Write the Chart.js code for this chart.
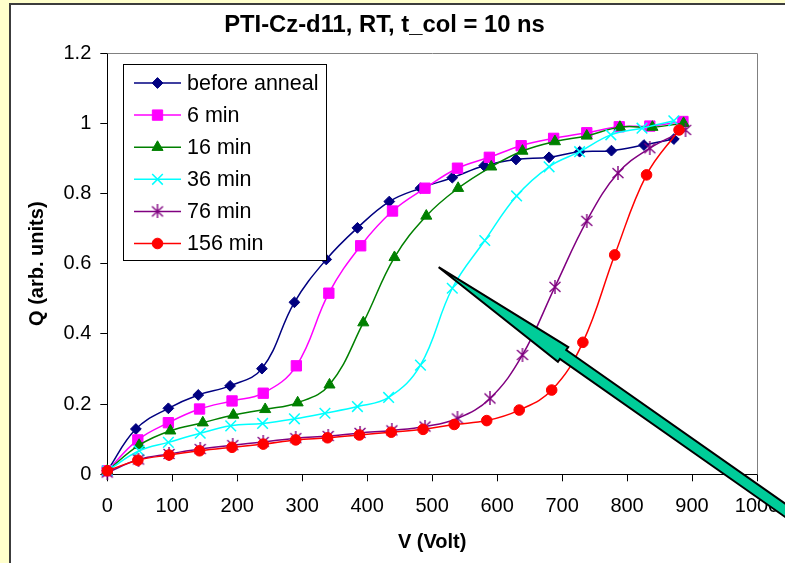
<!DOCTYPE html>
<html>
<head>
<meta charset="utf-8">
<title>PTI-Cz-d11, RT, t_col = 10 ns</title>
<script src="https://cdn.jsdelivr.net/npm/chart.js@4/dist/chart.umd.min.js"></script>
<style>
  html, body { margin: 0; padding: 0; background: #FFFFCC; overflow: hidden; }
  #panel { position: absolute; left: 9px; top: 3px; width: 820px; height: 620px;
           border: 2px solid #3c3c3c; background: #ffffff; }
  #wrap { position: absolute; left: 0; top: 0; width: 785px; height: 563px; }
  canvas { display: block; }
</style>
</head>
<body>
<div id="panel"></div>
<div id="wrap"><canvas id="chart" width="785" height="563"></canvas></div>
<script>
// Collection charge Q versus applied voltage V after successive anneal times.
const seriesLabels = ['before anneal', '6 min', '16 min', '36 min', '76 min', '156 min'];

const vBefore = [0, 44, 94, 140, 189, 238, 288, 337, 385, 434, 482, 531, 580, 629, 680, 727, 776, 826, 872];
const qBefore = [0.01, 0.129, 0.188, 0.226, 0.252, 0.301, 0.49, 0.612, 0.702, 0.777, 0.815, 0.845, 0.879, 0.897, 0.903, 0.919, 0.922, 0.938, 0.955];

const v6 = [0, 47, 94, 142, 192, 240, 291, 341, 390, 439, 489, 539, 588, 637, 687, 738, 788, 835, 886];
const q6 = [0.01, 0.098, 0.147, 0.186, 0.209, 0.231, 0.309, 0.516, 0.651, 0.75, 0.815, 0.872, 0.903, 0.936, 0.957, 0.973, 0.99, 0.992, 1.005];

const v16 = [0, 49, 97, 147, 194, 243, 293, 342, 394, 442, 491, 540, 591, 639, 689, 738, 789, 839, 887];
const q16 = [0.01, 0.083, 0.124, 0.147, 0.169, 0.185, 0.204, 0.255, 0.432, 0.618, 0.736, 0.815, 0.876, 0.921, 0.948, 0.964, 0.989, 0.989, 1.0];

const v36 = [0, 49, 94, 143, 190, 239, 288, 335, 385, 433, 482, 531, 581, 630, 680, 727, 775, 823, 872];
const q36 = [0.01, 0.067, 0.091, 0.117, 0.138, 0.145, 0.158, 0.174, 0.193, 0.219, 0.311, 0.53, 0.666, 0.793, 0.876, 0.919, 0.967, 0.986, 1.007];

const v76 = [0, 48, 95, 143, 193, 240, 290, 340, 389, 438, 489, 539, 589, 639, 689, 738, 786, 835, 890];
const q76 = [0.005, 0.042, 0.058, 0.072, 0.083, 0.092, 0.103, 0.109, 0.118, 0.125, 0.136, 0.159, 0.216, 0.34, 0.534, 0.722, 0.858, 0.929, 0.981];

const v156 = [0, 47, 95, 142, 192, 240, 290, 339, 388, 437, 486, 534, 584, 634, 684, 732, 781, 830, 880];
const q156 = [0.01, 0.04, 0.055, 0.067, 0.077, 0.086, 0.098, 0.104, 0.112, 0.12, 0.128, 0.142, 0.153, 0.183, 0.24, 0.376, 0.625, 0.853, 0.981];

// Axis ranges and tick steps
const vTicks = { min: 0, max: 1000, step: 100 };
const qTicks = { min: 0, max: 1.2, step: 0.2 };

// Arrow annotation (tip and tail, in data units)
const arrowTip = { v: 510, q: 0.59 };
const arrowTail = { v: 1080, q: -0.15 };

const FONT = "'Liberation Sans', Arial, Helvetica, sans-serif";

// Six-armed asterisk marker (X plus vertical bar)
function makeAsterisk(color) {
  const c = document.createElement('canvas');
  c.width = 14; c.height = 14;
  const g = c.getContext('2d');
  g.strokeStyle = color; g.lineWidth = 1.4; g.lineCap = 'butt';
  g.beginPath();
  g.moveTo(1.5, 2); g.lineTo(12.5, 12);
  g.moveTo(12.5, 2); g.lineTo(1.5, 12);
  g.moveTo(7, 0); g.lineTo(7, 14);
  g.stroke();
  return c;
}

const styles = [
  { color: '#000080', pointStyle: 'rectRot',  radius: 5.4, fill: '#000080', bw: 1 },
  { color: '#FF00FF', pointStyle: 'rect',     radius: 7.3, fill: '#FF00FF', bw: 1 },
  { color: '#008000', pointStyle: 'triangle', radius: 6.4, fill: '#008000', bw: 1 },
  { color: '#00FFFF', pointStyle: 'crossRot', radius: 7.5, fill: '#00FFFF', bw: 1.5 },
  { color: '#800080', pointStyle: makeAsterisk('#800080'), radius: 7, fill: '#800080', bw: 1.4 },
  { color: '#FF0000', pointStyle: 'circle',   radius: 5.3, fill: '#FF0000', bw: 1 }
];

const xs = [vBefore, v6, v16, v36, v76, v156];
const ys = [qBefore, q6, q16, q36, q76, q156];

const datasets = seriesLabels.map((label, i) => ({
  label,
  data: xs[i].map((v, k) => ({ x: v, y: ys[i][k] })),
  borderColor: styles[i].color,
  backgroundColor: styles[i].fill,
  borderWidth: 1.5,
  pointStyle: styles[i].pointStyle,
  pointRadius: styles[i].radius,
  pointHoverRadius: styles[i].radius,
  pointBackgroundColor: styles[i].fill,
  pointBorderColor: styles[i].color,
  pointBorderWidth: styles[i].bw,
  tension: 0.4,
  fill: false,
  clip: false,
  order: seriesLabels.length - 1 - i
}));

// Grey frame on the top and right edges of the plot area
const plotFrame = {
  id: 'plotFrame',
  beforeDatasetsDraw(chart) {
    const { ctx, chartArea: a } = chart;
    ctx.save();
    ctx.strokeStyle = '#808080';
    ctx.lineWidth = 1;
    ctx.beginPath();
    ctx.moveTo(Math.round(a.left) + 0.5, Math.round(a.top) + 0.5);
    ctx.lineTo(Math.round(a.right) + 0.5, Math.round(a.top) + 0.5);
    ctx.lineTo(Math.round(a.right) + 0.5, Math.round(a.bottom) + 0.5);
    ctx.stroke();
    ctx.restore();
  }
};

// Boxed legend inside the plot area, line sample with marker
const boxedLegend = {
  id: 'boxedLegend',
  afterDatasetsDraw(chart) {
    const { ctx, chartArea: a } = chart;
    const left = Math.round(a.left + 16) + 0.5;
    const top = Math.round(a.top + 10.5) + 0.5;
    const w = 203, h = 196, rowH = 32.1, firstRow = 18.5;
    ctx.save();
    ctx.fillStyle = '#ffffff';
    ctx.fillRect(left, top, w, h);
    ctx.strokeStyle = '#000000';
    ctx.lineWidth = 1;
    ctx.strokeRect(left, top, w, h);
    chart.data.datasets.forEach((ds, i) => {
      const y = top + firstRow + i * rowH;
      ctx.strokeStyle = ds.borderColor;
      ctx.lineWidth = ds.borderWidth;
      ctx.beginPath();
      ctx.moveTo(left + 10.5, y);
      ctx.lineTo(left + 57.5, y);
      ctx.stroke();
      ctx.fillStyle = ds.pointBackgroundColor;
      ctx.strokeStyle = ds.pointBorderColor;
      ctx.lineWidth = ds.pointBorderWidth;
      Chart.helpers.drawPoint(ctx, {
        pointStyle: ds.pointStyle, radius: ds.pointRadius,
        rotation: 0, borderWidth: ds.pointBorderWidth
      }, left + 34, y);
      ctx.fillStyle = '#000000';
      ctx.font = '21.5px ' + FONT;
      ctx.textAlign = 'left';
      ctx.textBaseline = 'middle';
      ctx.fillText(ds.label, left + 63.5, y + 1);
    });
    ctx.restore();
  }
};

// Filled block arrow drawn over the chart
const blockArrow = {
  id: 'blockArrow',
  afterDraw(chart) {
    const { ctx } = chart;
    const sx = chart.scales.x, sy = chart.scales.y;
    const tx = sx.getPixelForValue(arrowTip.v), ty = sy.getPixelForValue(arrowTip.q);
    const ex = sx.getPixelForValue(arrowTail.v), ey = sy.getPixelForValue(arrowTail.q);
    const len = Math.hypot(ex - tx, ey - ty);
    const ux = (ex - tx) / len, uy = (ey - ty) / len;
    const nx = -uy, ny = ux;
    const headLen = 152, headHalf = 9, shaftHalf = 5.5;
    const bx = tx + ux * headLen, by = ty + uy * headLen;
    ctx.save();
    ctx.beginPath();
    ctx.moveTo(tx, ty);
    ctx.lineTo(bx + nx * headHalf, by + ny * headHalf);
    ctx.lineTo(bx + nx * shaftHalf, by + ny * shaftHalf);
    ctx.lineTo(ex + nx * shaftHalf, ey + ny * shaftHalf);
    ctx.lineTo(ex - nx * shaftHalf, ey - ny * shaftHalf);
    ctx.lineTo(bx - nx * shaftHalf, by - ny * shaftHalf);
    ctx.lineTo(bx - nx * headHalf, by - ny * headHalf);
    ctx.closePath();
    ctx.fillStyle = '#00CC99';
    ctx.fill();
    ctx.lineWidth = 2;
    ctx.lineJoin = 'miter';
    ctx.strokeStyle = '#000000';
    ctx.stroke();
    ctx.restore();
  }
};

new Chart(document.getElementById('chart'), {
  type: 'line',
  data: { datasets },
  options: {
    responsive: false,
    animation: false,
    devicePixelRatio: 1,
    layout: { padding: { left: 12, right: 28, top: 0, bottom: 0 } },
    plugins: {
      legend: { display: false },
      tooltip: { enabled: false },
      title: {
        display: true,
        text: 'PTI-Cz-d11, RT, t_col = 10 ns',
        color: '#000000',
        font: { family: FONT, size: 23.8, weight: 'bold' },
        padding: { top: 11.5, bottom: 13 }
      }
    },
    scales: {
      x: {
        type: 'linear',
        min: vTicks.min, max: vTicks.max,
        ticks: {
          stepSize: vTicks.step, color: '#000000', padding: 13,
          maxRotation: 0, autoSkip: false,
          font: { family: FONT, size: 20 },
          callback: v => String(v)
        },
        grid: { drawOnChartArea: false, drawTicks: true, tickLength: 7, color: '#000000' },
        border: { color: '#000000', width: 1 },
        title: {
          display: true, text: 'V (Volt)', color: '#000000',
          font: { family: FONT, size: 20, weight: 'bold' },
          padding: { top: 0, bottom: 9 }
        },
        afterFit: s => { s.height = 88.7; s.paddingLeft = 0; s.paddingRight = 20; }
      },
      y: {
        type: 'linear',
        min: qTicks.min, max: qTicks.max,
        ticks: {
          stepSize: qTicks.step, color: '#000000', padding: 9,
          font: { family: FONT, size: 20 },
          callback: v => String(+v.toFixed(1))
        },
        grid: { drawOnChartArea: false, drawTicks: true, tickLength: 7, color: '#000000' },
        border: { color: '#000000', width: 1 },
        title: {
          display: true, text: 'Q (arb. units)', color: '#000000',
          font: { family: FONT, size: 20, weight: 'bold' },
          padding: { top: 13, bottom: 0 }
        },
        afterFit: s => { s.width = 95.3; }
      }
    }
  },
  plugins: [plotFrame, boxedLegend, blockArrow]
});
</script>
</body>
</html>
